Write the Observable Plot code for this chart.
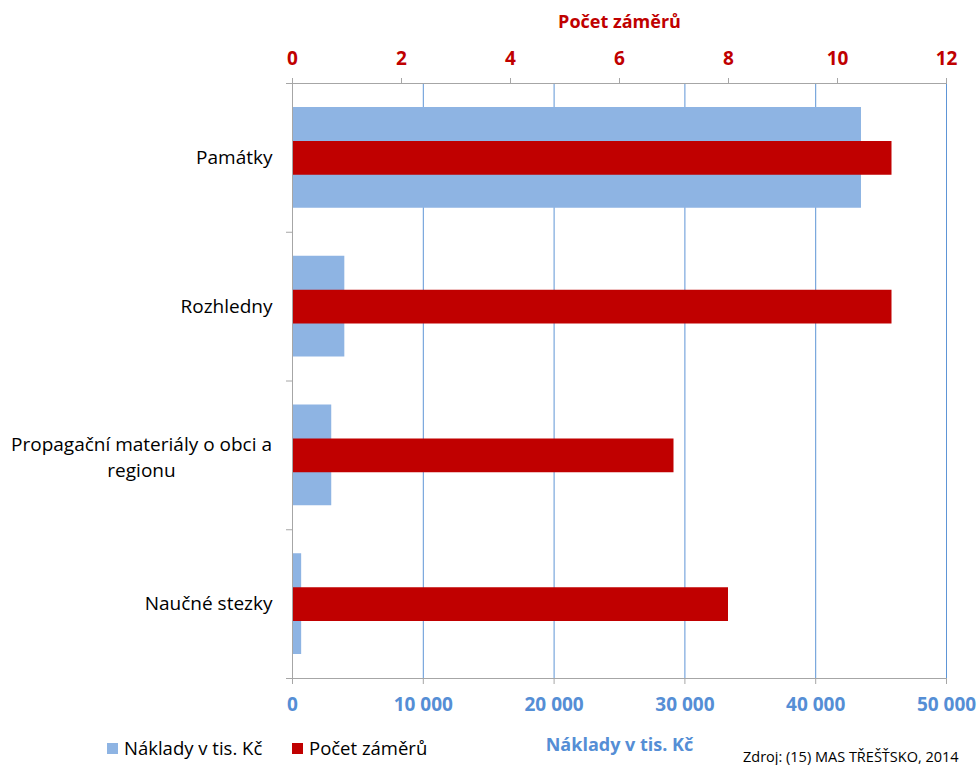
<!DOCTYPE html>
<html><head><meta charset="utf-8">
<script src="https://cdn.jsdelivr.net/npm/d3@7"></script>
<script src="https://cdn.jsdelivr.net/npm/@observablehq/plot@0.6"></script>
<style>
body{margin:0;background:#fff;font-family:"Open Sans", sans-serif}
#wrap{position:relative;width:977px;height:765px;overflow:hidden}
.leg{position:absolute;top:736px;font-size:18.5px;line-height:24px;display:flex;align-items:center;color:#000;white-space:nowrap}
.sw{display:inline-block;width:11px;height:11px;margin-right:6px}
#src{position:absolute;left:743px;top:747px;font-size:14.5px;color:#000;white-space:nowrap}
</style></head><body><div id="wrap"></div>
<script>
const categories = ["Památky", "Rozhledny", "Propagační materiály o obci a regionu", "Naučné stezky"];
const categoryLabels = ["Památky", "Rozhledny", "Propagační materiály o obci a\nregionu", "Naučné stezky"];
const naklady = [43500, 4000, 3000, 700];
const pocet = [11, 11, 7, 8];
const nakladyTicks = [0, 10000, 20000, 30000, 40000, 50000];
const pocetTicks = [0, 2, 4, 6, 8, 10, 12];
const seriesNames = ["Náklady v tis. Kč", "Počet záměrů"];
const seriesColors = ["#8EB4E3", "#C00000"];
const sourceText = "Zdroj: (15) MAS TŘEŠŤSKO, 2014";

const S = nakladyTicks[nakladyTicks.length - 1] / pocetTicks[pocetTicks.length - 1];
const rows = categories.map((c, i) => ({c, i, naklady: naklady[i], pocet: pocet[i], label: categoryLabels[i]}));
const fmt = d => d3.format(",")(d).replace(/,/g, " ");
const single = rows.filter(r => !r.label.includes("\n"));
const multi = rows.filter(r => r.label.includes("\n"));

const chart = Plot.plot({
  width: 977, height: 765,
  marginLeft: 292, marginRight: 31, marginTop: 83, marginBottom: 87,
  style: {fontFamily: "'Open Sans', sans-serif", background: "transparent", overflow: "visible"},
  x: {domain: [nakladyTicks[0], nakladyTicks[nakladyTicks.length - 1]], axis: null},
  y: {domain: [0, categories.length], reverse: true, axis: null},
  marks: [
    Plot.gridX(nakladyTicks.slice(1), {stroke: "#5E95D6", strokeOpacity: 1}),
    Plot.rect(rows, {x1: () => 0, x2: "naklady", y1: "i", y2: d => d.i + 1, fill: seriesColors[0], insetTop: 24, insetBottom: 24}),
    Plot.rect(rows, {x1: () => 0, x2: d => d.pocet * S, y1: "i", y2: d => d.i + 1, fill: seriesColors[1], insetTop: 58, insetBottom: 57}),
    Plot.ruleX([0], {stroke: "#A6A6A6"}),
    Plot.ruleY([0, categories.length], {stroke: "#A6A6A6"}),
    Plot.axisX(nakladyTicks, {anchor: "bottom", tickSize: 6, tickPadding: 13, stroke: "#A6A6A6", fill: "#558ED5",
      fontSize: 19, fontWeight: "bold", tickFormat: fmt, label: seriesNames[0], labelAnchor: "center", labelArrow: false, labelOffset: 72}),
    Plot.axisX(pocetTicks.map(v => v * S), {anchor: "top", tickSize: 6, tickPadding: 13, stroke: "#A6A6A6", fill: "#C00000",
      fontSize: 19, fontWeight: "bold", tickFormat: d => Math.round(d / S), label: seriesNames[1], labelAnchor: "center", labelArrow: false, labelOffset: 68}),
    Plot.axisY(d3.range(categories.length + 1), {anchor: "left", tickSize: 6, stroke: "#A6A6A6", tickFormat: () => "", label: null}),
    Plot.axisY(single.map(r => r.i + 0.5), {anchor: "left", tickSize: 0, tickPadding: 20, fill: "#000", fontSize: 19,
      tickFormat: v => categoryLabels[v - 0.5], label: null}),
    Plot.text(multi, {x: () => 0, y: d => d.i + 0.5, text: "label", textAnchor: "middle", dx: -151, lineHeight: 1.42, fontSize: 19, fill: "#000"})
  ]
});

// title fonts slightly smaller than tick labels
chart.querySelectorAll('[aria-label="x-axis label"] text').forEach(t => t.setAttribute("font-size", 18));

const wrap = document.getElementById("wrap");
wrap.appendChild(chart);
const legX = [107, 292];
seriesNames.forEach((n, k) => {
  const d = document.createElement("div");
  d.className = "leg";
  d.style.left = legX[k] + "px";
  d.innerHTML = `<span class="sw" style="background:${seriesColors[k]}"></span><span>${n}</span>`;
  wrap.appendChild(d);
});
const s = document.createElement("div");
s.id = "src"; s.textContent = sourceText;
wrap.appendChild(s);
</script></body></html>
